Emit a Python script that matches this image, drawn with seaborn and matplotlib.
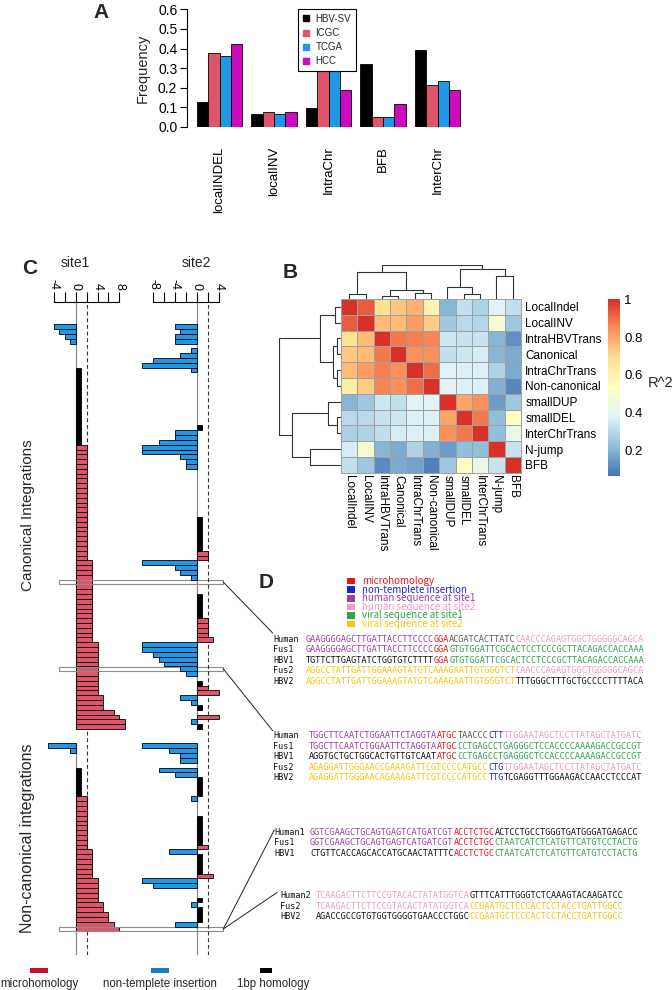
import numpy as np
import pandas as pd
import matplotlib
matplotlib.use('Agg')
import matplotlib.pyplot as plt
import seaborn as sns
from matplotlib.patches import Rectangle, ConnectionPatch
from matplotlib.colors import LinearSegmentedColormap
from matplotlib.lines import Line2D

# ---------------- data ----------------
# panel A
sv_types = ['localINDEL', 'localINV', 'IntraChr', 'BFB', 'InterChr']
sources = ['HBV-SV', 'ICGC', 'TCGA', 'HCC']
hbv_sv = [0.125, 0.065, 0.095, 0.32, 0.395]
icgc = [0.375, 0.075, 0.285, 0.05, 0.215]
tcga = [0.36, 0.068, 0.285, 0.05, 0.235]
hcc = [0.425, 0.075, 0.19, 0.115, 0.19]
colors_a = ['#000000', '#DF536B', '#2297E6', '#CD0BBC']

# panel B
feat = ['LocalIndel', 'LocalINV', 'IntraHBVTrans', 'Canonical', 'IntraChrTrans',
        'Non-canonical', 'smallDUP', 'smallDEL', 'InterChrTrans', 'N-jump', 'BFB']
r2 = [
    [1.00, 0.93, 0.68, 0.74, 0.78, 0.60, 0.20, 0.32, 0.28, 0.38, 0.32],
    [0.93, 1.00, 0.76, 0.76, 0.82, 0.73, 0.25, 0.30, 0.29, 0.48, 0.25],
    [0.68, 0.76, 1.00, 0.88, 0.87, 0.86, 0.34, 0.33, 0.33, 0.20, 0.12],
    [0.74, 0.76, 0.88, 1.00, 0.84, 0.84, 0.32, 0.34, 0.36, 0.20, 0.18],
    [0.76, 0.82, 0.87, 0.84, 1.00, 0.90, 0.38, 0.37, 0.37, 0.28, 0.18],
    [0.62, 0.73, 0.86, 0.84, 0.90, 1.00, 0.38, 0.37, 0.37, 0.19, 0.10],
    [0.20, 0.25, 0.34, 0.32, 0.38, 0.38, 1.00, 0.80, 0.84, 0.15, 0.25],
    [0.30, 0.30, 0.33, 0.34, 0.37, 0.37, 0.80, 1.00, 0.88, 0.22, 0.52],
    [0.27, 0.28, 0.31, 0.36, 0.37, 0.37, 0.84, 0.88, 1.00, 0.22, 0.43],
    [0.36, 0.48, 0.20, 0.18, 0.28, 0.19, 0.15, 0.22, 0.22, 1.00, 0.33],
    [0.32, 0.25, 0.11, 0.18, 0.16, 0.09, 0.25, 0.52, 0.43, 0.33, 1.00],
]
# dendrogram merges (leaf / cluster ids, like a linkage table) and heights
merges = [(0, 1), (2, 3), (4, 5), (12, 13), (11, 14), (7, 8), (6, 16), (9, 10), (17, 18), (15, 19)]
row_heights = [18, 11, 11, 25, 63, 11, 38, 93, 145, 185]
col_heights = [15, 10, 17, 27, 80, 15, 35, 70, 90, 102]

# panel C: bp of homology (>0) / insertion (<0) for each integration
site1_canonical = [-4, -3, -2, -1, 0, 0, 0, 0, 0,
                   1, 1, 1, 1, 1, 1, 1, 1, 1, 1, 1, 1, 1, 1, 1, 1,
                   2, 2, 2, 2, 2, 2, 2, 2, 2, 2, 2, 2, 2, 2, 2, 2, 2, 2, 2, 2, 2, 2, 2, 2,
                   3, 3, 3, 3, 3, 3, 3, 3, 3, 3, 3, 3, 3, 3, 3, 3, 3,
                   4, 4, 4, 4, 4, 4, 4, 4, 4, 4, 4,
                   5, 5, 5, 7, 8, 9, 9]
site2_canonical = [-4, -3, -4, -4, 0, -1, -3, -8, -10, -1,
                   0, 0, 0, 0, 0, 0, 0, 0, 0, 0, 0,
                   1, -4, -4, -7, -10, -10, -3, -2, -2,
                   0, 0, 0, 0, 0, 0, 0, 0, 0, 0,
                   1, 1, 1, 1, 1, 1, 1, 2, 2, -10, -4, -3, -1, 0, 0, 0,
                   1, 1, 1, 1, 1, 2, 2, 2, 2, 3,
                   -10, -10, -8, -7, -6, -3, -2,
                   0, 1, 2, 4, -3, -1, 1, 0, 4, -1, 1]
site1_noncanonical = [-5, -1, 0, 0, 0, 1, 1, 1, 1, 1, 1,
                      2, 2, 2, 2, 2, 2, 2, 2, 2, 2, 2,
                      3, 3, 3, 3, 3, 3, 4, 4, 4, 4, 4, 5, 5, 6, 6, 7, 8]
site2_noncanonical = [-10, -5, -3, -3, 0, -7, -4, 1, 1, 1, 1, -1, 0, 0, 0,
                      1, 1, 1, 1, 1, 1, 2, -5, 1, 1, 1, 1, 3, -10, -8, 0, 0,
                      1, -1, 1, 1, 1, -4, 0]
gap_rows = 3
highlight_rows = [53, 71, 125]
colors_c = {'microhomology': '#DF536B', 'insertion': '#2297E6', 'homology1': '#000000'}

# panel D
seq_colors = {'micro': '#E8141C', 'insert': '#2222CC', 'hs1': '#9B3FA8', 'hs2': '#F29AC8',
              'vs1': '#2FA34F', 'vs2': '#FFC20E', 'plain': '#111111', 'gray': '#5a5a5a'}
d_legend = [('microhomology', 'micro'), ('non-templete insertion', 'insert'),
            ('human sequence at site1', 'hs1'), ('human sequence at site2', 'hs2'),
            ('viral sequence at site1', 'vs1'), ('viral sequence at site2', 'vs2')]
block1 = [
    ('Human', [('GAAGGGGAGCTTGATTACCTTCCCC', 'hs1'), ('GGA', 'micro'), ('ACGATCACTTATC', 'gray'), ('CAACCCAGAGTGGCTGGGGGCAGCA', 'hs2')]),
    ('Fus1', [('GAAGGGGAGCTTGATTACCTTCCCC', 'hs1'), ('GGA', 'micro'), ('GTGTGGATTCGCACTCCTCCCGCTTACAGACCACCAAA', 'vs1')]),
    ('HBV1', [('TGTTCTTGAGTATCTGGTGTCTTTT', 'plain'), ('GGA', 'micro'), ('GTGTGGATTCGCACTCCTCCCGCTTACAGACCACCAAA', 'vs1')]),
    ('Fus2', [('AGGCCTATTGATTGGAAAGTATGTCAAAGAATTGTGGGTCT', 'vs2'), ('CAACCCAGAGTGGCTGGGGGCAGCA', 'hs2')]),
    ('HBV2', [('AGGCCTATTGATTGGAAAGTATGTCAAAGAATTGTGGGTCT', 'vs2'), ('TTTGGGCTTTGCTGCCCCTTTTACA', 'plain')]),
]
block2 = [
    ('Human', [('TGGCTTCAATCTGGAATTCTAGGTA', 'hs1'), ('ATGC', 'micro'), ('TAACCC', 'gray'), ('CTT', 'insert'), ('TTGGAATAGCTCCTTATAGCTATGATC', 'hs2')]),
    ('Fus1', [('TGGCTTCAATCTGGAATTCTAGGTA', 'hs1'), ('ATGC', 'micro'), ('CCTGAGCCTGAGGGCTCCACCCCAAAAGACCGCCGT', 'vs1')]),
    ('HBV1', [('AGGTGCTGCTGGCACTGTTGTCAAT', 'plain'), ('ATGC', 'micro'), ('CCTGAGCCTGAGGGCTCCACCCCAAAAGACCGCCGT', 'vs1')]),
    ('Fus2', [('AGAGGATTGGGAACCGAAAGATTCGTCCCCATGCC', 'vs2'), ('CTG', 'insert'), ('TTGGAATAGCTCCTTATAGCTATGATC', 'hs2')]),
    ('HBV2', [('AGAGGATTGGGAACAGAAAGATTCGTCCCCATGCC', 'vs2'), ('TTG', 'insert'), ('TCGAGGTTTGGAAGACCAACCTCCCAT', 'plain')]),
]
block3 = [
    ('Human1', [('GGTCGAAGCTGCAGTGAGTCATGATCGT', 'hs1'), ('ACCTCTGC', 'micro'), ('ACTCCTGCCTGGGTGATGGGATGAGACC', 'plain')]),
    ('Fus1', [('GGTCGAAGCTGCAGTGAGTCATGATCGT', 'hs1'), ('ACCTCTGC', 'micro'), ('CTAATCATCTCATGTTCATGTCCTACTG', 'vs1')]),
    ('HBV1', [('CTGTTCACCAGCACCATGCAACTATTTC', 'plain'), ('ACCTCTGC', 'micro'), ('CTAATCATCTCATGTTCATGTCCTACTG', 'vs1')]),
]
block4 = [
    ('Human2', [('TCAAGACTTCTTCCGTACACTATATGGTCA', 'hs2'), ('GTTTCATTTGGGTCTCAAAGTACAAGATCC', 'plain')]),
    ('Fus2', [('TCAAGACTTCTTCCGTACACTATATGGTCA', 'hs2'), ('CCGAATGCTCCCACTCCTACCTGATTGGCC', 'vs2')]),
    ('HBV2', [('AGACCGCCGTGTGGTGGGGTGAACCCTGGC', 'plain'), ('CCGAATGCTCCCACTCCTACCTGATTGGCC', 'vs2')]),
]

# ---------------- figure ----------------
sns.set_theme(style='ticks', rc={'axes.linewidth': 0.8, 'axes.edgecolor': 'black',
                                 'xtick.color': 'black', 'ytick.color': 'black',
                                 'axes.unicode_minus': False})
plt.rcParams['font.family'] = ['Liberation Sans', 'DejaVu Sans']

W, H = 672, 990
fig = plt.figure(figsize=(W / 100, H / 100), dpi=100)


def px_axes(left, top, right, bottom):
    return fig.add_axes([left / W, 1 - bottom / H, (right - left) / W, (bottom - top) / H])


# overlay for free text and connectors
ov = fig.add_axes([0, 0, 1, 1], zorder=5)
ov.set_xlim(0, W)
ov.set_ylim(H, 0)
ov.axis('off')
ov.patch.set_visible(False)

# ---- A ----
dfA = pd.DataFrame({'type': np.repeat(sv_types, 4),
                    'source': sources * len(sv_types),
                    'freq': np.ravel(np.column_stack([hbv_sv, icgc, tcga, hcc]))})
axA = px_axes(187, 9.3, 478, 127)
sns.barplot(data=dfA, x='type', y='freq', hue='source', hue_order=sources, palette=colors_a,
            width=0.83, gap=0, saturation=1, edgecolor='black', linewidth=0.6,
            errorbar=None, legend=False, ax=axA)
axA.set_xlim(-0.596, 4.74)
axA.set_ylim(0, 0.6)
for s in ['top', 'right', 'bottom']:
    axA.spines[s].set_visible(False)
axA.spines['left'].set_bounds(0, 0.6)
axA.set_yticks(np.arange(0, 0.61, 0.1))
axA.set_yticklabels([f'{v:.1f}' for v in np.arange(0, 0.61, 0.1)])
axA.tick_params(axis='y', length=5, width=0.8, labelsize=10, pad=2)
axA.tick_params(axis='x', length=0, pad=14, labelsize=9.5, labelrotation=90)
axA.set_xlabel('')
axA.set_ylabel('Frequency', fontsize=10.5, labelpad=6)
handles = [Line2D([], [], marker='s', ls='', color=c, markersize=4.5) for c in colors_a]
legA = axA.legend(handles, sources, loc='upper left', bbox_to_anchor=(298 / W, 1 - 9 / H),
                  bbox_transform=fig.transFigure, frameon=True, fancybox=False, framealpha=1,
                  fontsize=7, handlelength=0.7, handletextpad=0.6, borderpad=0.5,
                  labelspacing=0.42, borderaxespad=0)
legA.get_frame().set_edgecolor('black')
legA.get_frame().set_linewidth(0.8)
legA.set_zorder(10)

# ---- B ----
cmapB = LinearSegmentedColormap.from_list(
    'pheat', ['#4575B4', '#91BFDB', '#E0F3F8', '#FFFFBF', '#FEE090', '#FC8D59', '#D73027'])
dfB = pd.DataFrame(r2, index=feat, columns=feat)
axH = px_axes(341, 299, 521, 472.7)
axCb = px_axes(608, 299, 620, 475.7)
sns.heatmap(dfB, ax=axH, cbar_ax=axCb, cmap=cmapB, vmin=0.063, vmax=1.005,
            linewidths=0.7, linecolor='#a0a0a0', xticklabels=True, yticklabels=True)
axH.yaxis.tick_right()
axH.tick_params(axis='y', length=0, labelsize=8.5, pad=3, labelrotation=0)
axH.tick_params(axis='x', length=0, labelsize=8.5, pad=2)
for lbl in axH.get_xticklabels():
    lbl.set_rotation(-90)
    lbl.set_va('top')
    lbl.set_ha('center')
for sp in axH.spines.values():
    sp.set_visible(True)
    sp.set_color('#a0a0a0')
    sp.set_linewidth(0.7)
cb = axH.collections[0].colorbar
cb.outline.set_visible(False)
cb.set_ticks([0.2, 0.4, 0.6, 0.8, 1.0])
cb.set_ticklabels(['0.2', '0.4', '0.6', '0.8', '1'])
axCb.tick_params(length=0, labelsize=9.5, pad=3)
ov.text(648, 383, 'R^2', fontsize=10.5, va='center', ha='left')


def draw_dendro(ax, heights, orient):
    n = len(feat)
    pos = {i: i + 0.5 for i in range(n)}
    hgt = {i: 0 for i in range(n)}
    for k, ((a, b), h) in enumerate(zip(merges, heights)):
        ps = [pos[a], pos[a], pos[b], pos[b]]
        hs = [hgt[a], h, h, hgt[b]]
        if orient == 'left':
            ax.plot(hs, ps, color='#333333', lw=0.8)
        else:
            ax.plot(ps, hs, color='#333333', lw=0.8)
        pos[n + k] = (pos[a] + pos[b]) / 2
        hgt[n + k] = h


axRD = px_axes(279, 299, 341, 472.7)
draw_dendro(axRD, row_heights, 'left')
axRD.set_xlim(max(row_heights), 0)
axRD.set_ylim(len(feat), 0)
axRD.axis('off')
axCD = px_axes(341, 265, 521, 299)
draw_dendro(axCD, col_heights, 'top')
axCD.set_xlim(0, len(feat))
axCD.set_ylim(0, max(col_heights))
axCD.axis('off')

# ---- C ----
n_rows = len(site1_canonical) + gap_rows + len(site1_noncanonical)
row_ids = [f'r{i}' for i in range(n_rows)]


def kind(v):
    if v < 0:
        return 'insertion'
    if v == 1:
        return 'homology1'
    return 'microhomology'


def site_frame(canon, noncanon):
    vals = list(canon) + [0] * gap_rows + list(noncanon)
    recs = [(row_ids[i], v, kind(v)) for i, v in enumerate(vals) if v != 0]
    return pd.DataFrame(recs, columns=['row', 'value', 'kind'])


site_specs = [
    ('site1', site_frame(site1_canonical, site1_noncanonical), (45, 132), 75.7, [-4, 0, 4, 8], [-2, 2, 6]),
    ('site2', site_frame(site2_canonical, site2_noncanonical), (135, 228), 196.7, [-8, -4, 0, 4], [-6, -2, 2]),
]
unit = 5.45
ylo, yhi = 130.4, -5.07
n_can = len(site1_canonical)
site_axes = []
for name, dfc, (l, r), zero_px, major, minor in site_specs:
    ax = px_axes(l, 302.3, r, 955)
    ax.patch.set_visible(False)
    sns.barplot(data=dfc, x='value', y='row', hue='kind', order=row_ids,
                hue_order=['microhomology', 'insertion', 'homology1'], palette=colors_c,
                dodge=False, width=1, orient='h', saturation=1, edgecolor='black',
                linewidth=0.6, errorbar=None, legend=False, ax=ax, zorder=3)
    ax.set_xlim((l - zero_px) / unit, (r - zero_px) / unit)
    ax.set_ylim(ylo, yhi)
    ax.vlines(0, yhi, n_can - 0.5, color='#8a8a8a', lw=0.9, zorder=2)
    ax.vlines(0, n_can + gap_rows - 0.5, ylo, color='#8a8a8a', lw=0.9, zorder=2)
    ax.axvline(2, color='#333333', lw=0.8, ls=(0, (3.5, 2.5)), zorder=2)
    for s in ['bottom', 'left', 'right']:
        ax.spines[s].set_visible(False)
    ax.spines['top'].set_bounds(major[0], major[-1])
    ax.xaxis.tick_top()
    ax.set_xticks(major)
    ax.set_xticks(minor, minor=True)
    ax.set_xticklabels([str(v) for v in major])
    ax.tick_params(axis='x', which='both', top=True, bottom=False, length=7, width=0.8,
                   labelsize=9, labelrotation=-90, pad=2)
    ax.set_yticks([])
    ax.set_xlabel('')
    ax.set_ylabel('')
    ov.text(zero_px, 263, name, fontsize=10, ha='center', va='center')
    site_axes.append(ax)

axC1 = site_axes[0]
rect_x0, rect_x1 = -3.01, 27.08
for rr in highlight_rows:
    axC1.add_patch(Rectangle((rect_x0, rr - 0.45), rect_x1 - rect_x0, 0.9, fill=False,
                             edgecolor='#8c8c8c', lw=0.8, clip_on=False, zorder=6))

connectors = [(53, (272.7, 633)), (71, (272.7, 730.7)), (125, (274.3, 830)), (125, (277.3, 892.3))]
for rr, target in connectors:
    con = ConnectionPatch(xyA=(rect_x1, rr), coordsA=axC1.transData, xyB=target,
                          coordsB=ov.transData, color='#222222', lw=0.7)
    fig.add_artist(con)

ov.text(28, 515, 'Canonical Integrations', rotation=90, fontsize=11, ha='center', va='center')
ov.text(28, 838, 'Non-canonical integrations', rotation=90, fontsize=11.5, ha='center', va='center')

# bottom legend of C
leg_items = [('microhomology', '#C8102E', 39, 18), ('non-templete insertion', '#1A7DC0', 159.5, 18),
             ('1bp homology', '#000000', 266, 12)]
for txt, col, cx, w in leg_items:
    ov.add_patch(Rectangle((cx - w / 2, 967.7), w, 5.6, color=col, lw=0))
    ov.text(cx if txt != '1bp homology' else 273, 983.5, txt, fontsize=8.3, ha='center', va='center')

# ---- D ----
mono = 'DejaVu Sans Mono'
for i, (txt, key) in enumerate(d_legend):
    y = 581 + 8.6 * i
    ov.add_patch(Rectangle((347, y - 3.3), 8, 6.6, color=seq_colors[key], lw=0))
    ov.text(362, y, txt, fontsize=7, family=['Noto Sans CJK JP', 'DejaVu Sans'],
            color=seq_colors[key], va='center', ha='left')


def seq_block(block, label_x, seq_x, ys):
    for (label, segs), y in zip(block, ys):
        ov.text(label_x, y, label, fontsize=6.1, family=mono, color='#111111', va='center', ha='left')
        t = ov.text(seq_x, y, segs[0][0], fontsize=6.1, family=mono, color=seq_colors[segs[0][1]],
                    va='center', ha='left')
        for s, key in segs[1:]:
            t = ov.annotate(s, xy=(1, 0), xycoords=t, va='bottom', ha='left', fontsize=6.1,
                            family=mono, color=seq_colors[key])


seq_block(block1, 273.3, 305.7, [639, 649.7, 660.3, 670.7, 681])
seq_block(block2, 273.3, 309, [735.7, 746.3, 756.7, 767.3, 777.7])
seq_block(block3, 274.3, 310, [832.3, 842.7, 853])
seq_block(block4, 280, 316, [896, 906.3, 916.3])

# panel letters
for letter, x, y in [('A', 101, 13), ('B', 290, 272), ('C', 30, 268), ('D', 266, 582)]:
    ov.text(x, y, letter, fontsize=15, fontweight='bold', ha='center', va='center')

fig.savefig('out.png', dpi=100)
